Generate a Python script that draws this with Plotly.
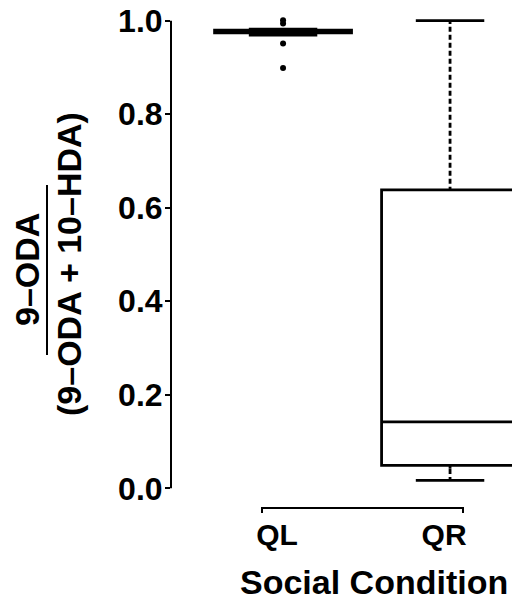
import plotly.graph_objects as go

# ---- data ----
categories = ["QL", "QR"]
q1 = [0.974, 0.049]
medians = [0.977, 0.142]
q3 = [0.980, 0.638]
lower_whisker = [0.969, 0.017]
upper_whisker = [0.982, 1.0]
outlier_cats = ["QL", "QL", "QL", "QL"]
outlier_vals = [1.001, 0.994, 0.951, 0.899]
y_ticks = [0.0, 0.2, 0.4, 0.6, 0.8, 1.0]
y_title_top = "9–ODA"
y_title_bottom = "(9–ODA + 10–HDA)"
x_title = "Social Condition"

# ---- layout geometry ----
W, H = 512, 601
L, R, T, B = 171, 0, 16, 108
pw = W - L - R
ph = H - T - B


def px_x(px):
    return (px - L) / pw


def px_y(py):
    return (H - B - py) / ph


FONT = "Arial, 'Liberation Sans', Helvetica, sans-serif"

fig = go.Figure()

fig.add_trace(go.Box(
    x=categories, q1=q1, median=medians, q3=q3,
    lowerfence=lower_whisker, upperfence=upper_whisker,
    width=0.82, whiskerwidth=0.5,
    line=dict(color="black", width=2.8), fillcolor="white",
    boxpoints=False, hoverinfo="skip", showlegend=False,
))

# dotted look for whiskers: white gaps over the solid whisker line
eps = 0.007
for c, a, b in list(zip(categories, q3, upper_whisker)) + list(zip(categories, lower_whisker, q1)):
    if b - a > 3 * eps:
        fig.add_trace(go.Scatter(
            x=[c, c], y=[a + eps, b - eps], mode="lines",
            line=dict(color="white", width=5, dash="3px,5px"),
            hoverinfo="skip", showlegend=False,
        ))

fig.add_trace(go.Scatter(
    x=outlier_cats, y=outlier_vals, mode="markers",
    marker=dict(color="black", size=6),
    hoverinfo="skip", showlegend=False,
))

shapes = [
    # y axis line from 0 to 1
    dict(type="line", xref="paper", yref="y", x0=0, x1=0, y0=0, y1=1,
         line=dict(color="black", width=2), layer="above"),
    # x-axis bracket
    dict(type="path", xref="paper", yref="paper",
         path=f"M {px_x(262)},{px_y(513)} L {px_x(262)},{px_y(508)} L {px_x(463)},{px_y(508)} L {px_x(463)},{px_y(513)}",
         line=dict(color="black", width=2)),
    # fraction bar of the y title
    dict(type="line", xref="paper", yref="paper",
         x0=px_x(47), x1=px_x(47), y0=px_y(355), y1=px_y(185),
         line=dict(color="black", width=2)),
]

annotations = [
    dict(text=y_title_top, textangle=-90,
         xref="paper", yref="paper", x=px_x(27), y=px_y(270),
         xanchor="center", yanchor="middle", showarrow=False,
         font=dict(family=FONT, size=34, color="black", weight="bold")),
    dict(text=y_title_bottom, textangle=-90,
         xref="paper", yref="paper", x=px_x(69), y=px_y(264),
         xanchor="center", yanchor="middle", showarrow=False,
         font=dict(family=FONT, size=34, color="black", weight="bold")),
    dict(text=x_title, xref="paper", yref="paper", x=px_x(374), y=px_y(582),
         xanchor="center", yanchor="middle", showarrow=False,
         font=dict(family=FONT, size=34, color="black", weight="bold")),
]

fig.update_layout(
    width=W, height=H,
    margin=dict(l=L, r=R, t=T, b=B, pad=0),
    plot_bgcolor="white", paper_bgcolor="white",
    showlegend=False,
    shapes=shapes, annotations=annotations,
    xaxis=dict(type="category", range=[-0.671, 1.371],
               showline=False, showgrid=False, zeroline=False, ticks="",
               tickfont=dict(family=FONT, size=30, color="black", weight="bold"),
               ticklabelshift=-6, ticklabelstandoff=21),
    yaxis=dict(range=[-0.01, 1.01], tickvals=y_ticks, tickformat=".1f",
               ticks="outside", ticklen=5, tickwidth=2, tickcolor="black",
               showline=False, showgrid=False, zeroline=False,
               tickfont=dict(family=FONT, size=32, color="black", weight="bold"),
               ticklabelstandoff=-4),
)

fig.write_html("out.html", config={"displayModeBar": False},
               post_script="document.body.style.margin='0';")
